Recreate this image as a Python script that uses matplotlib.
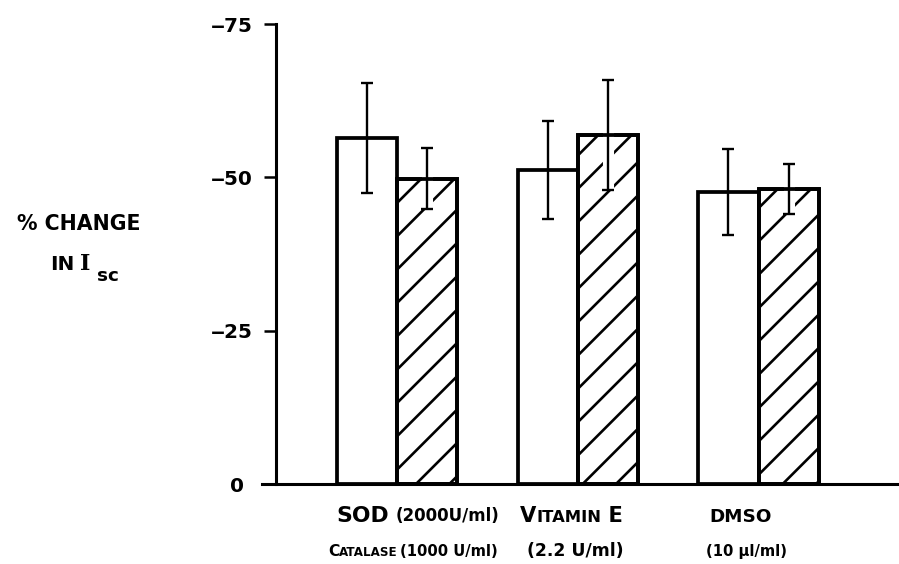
import numpy as np
import matplotlib.pyplot as plt
import matplotlib.patheffects as pe

# percent change in Isc (negative = decrease), mean +/- error
groups = ["SOD", "VITAMIN E", "DMSO"]
open_vals = [-56.4, -51.2, -47.6]
open_err = [9.0, 8.0, 7.0]
hatch_vals = [-49.8, -56.9, -48.1]
hatch_err = [5.0, 9.0, 4.0]
yticks = [0, -25, -50, -75]
ytick_labels = ["0", "\u201225", "\u201250", "\u201275"]

W, H, DPI = 899, 564, 200
plt.rcParams['font.family'] = 'DejaVu Sans'
plt.rcParams['font.weight'] = 'bold'
plt.rcParams['hatch.linewidth'] = 0.95

fig = plt.figure(figsize=(W / DPI, H / DPI), dpi=DPI)
ax = fig.add_axes([262 / W, 1 - 484 / H, 1 - 262 / W, (484 - 24) / H])
renderer = fig.canvas.get_renderer()


def px(x, y):
    return x / W, 1 - y / H


def pieces(x, y, parts):
    # draw text pieces left to right (fake small caps)
    for s, size in parts:
        t = fig.text(*px(x, y), s, fontsize=size, ha='left', va='baseline')
        x += t.get_window_extent(renderer).width


x = np.arange(len(groups)) * 3.0
ekw = dict(elinewidth=0.85, capthick=0.85, capsize=2.0, ecolor='black')
ax.bar(x - 0.5, open_vals, width=1.0, color='white', edgecolor='black',
       linewidth=1.35, yerr=open_err, error_kw=ekw, zorder=2)

# hatched bars: fill, then error bars with a white halo, then outline on top
ax.bar(x + 0.5, hatch_vals, width=1.0, color='white', edgecolor='black',
       linewidth=1.35, hatch='//', zorder=2)
eb = ax.errorbar(x + 0.5, hatch_vals, yerr=hatch_err, fmt='none', zorder=3, **ekw)
halo = [pe.withStroke(linewidth=4.0, foreground='white')]
for ln in eb.lines[2]:
    ln.set_path_effects(halo)
ax.bar(x + 0.5, hatch_vals, width=1.0, fill=False, edgecolor='black',
       linewidth=1.35, zorder=4)

ax.spines['left'].set_position(('data', -2.0))
ax.spines['left'].set_bounds(0, -75)
for s in ['left', 'bottom']:
    ax.spines[s].set_linewidth(1.1)
for s in ['top', 'right']:
    ax.spines[s].set_visible(False)

ax.set_xlim(-2.24, 8.33)
ax.set_ylim(0, -75)
ax.set_yticks(yticks)
ax.set_yticklabels(ytick_labels)
ax.set_xticks([])
ax.tick_params(axis='y', length=4.3, width=0.9, pad=4.3, labelsize=7.2)
ax.yaxis.get_major_ticks()[0].set_pad(7.3)

# y label
fig.text(*px(79, 230), "% CHANGE", fontsize=7.4, ha='center', va='baseline')
fig.text(*px(50, 270), "IN", fontsize=7.2, ha='left', va='baseline')
fig.text(*px(80, 270), "I", fontsize=8.0, family='DejaVu Serif',
         ha='left', va='baseline')
fig.text(*px(97, 281), "sc", fontsize=6.6, ha='left', va='baseline')

# group labels
fig.text(*px(336, 522), "SOD", fontsize=7.9, ha='left', va='baseline')
fig.text(*px(396, 521), "(2000U/ml)", fontsize=6.0, ha='left', va='baseline')
pieces(328, 556, [("C", 5.6), ("ATALASE", 4.3)])
fig.text(*px(400, 556), "(1000 U/ml)", fontsize=5.3, ha='left', va='baseline')
pieces(520, 522, [("V", 7.6), ("ITAMIN", 5.9), (" E", 7.6)])
fig.text(*px(575, 556), "(2.2 U/ml)", fontsize=6.2, ha='center', va='baseline')
fig.text(*px(741, 522), "DMSO", fontsize=6.6, ha='center', va='baseline')
fig.text(*px(747, 556), "(10 \u00b5l/ml)", fontsize=5.3, ha='center', va='baseline')

fig.savefig("out.png", dpi=DPI)
